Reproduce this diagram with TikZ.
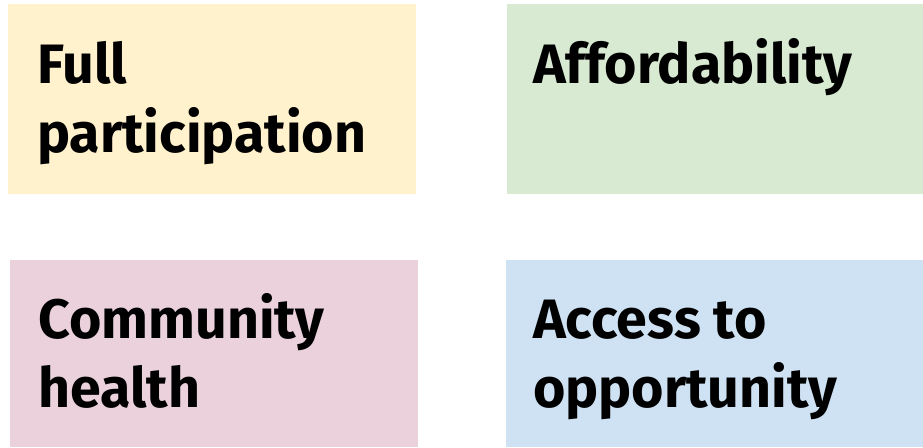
\documentclass[tikz,border=0pt]{standalone}
\usepackage{fontspec}
\setmainfont{Fira Sans}[BoldFont={Fira Sans Bold}]
\definecolor{cyel}{HTML}{FFF2CC}
\definecolor{cgrn}{HTML}{D9EAD3}
\definecolor{cpnk}{HTML}{EAD1DC}
\definecolor{cblu}{HTML}{CFE2F3}
\begin{document}
\begin{tikzpicture}[x=1pt,y=-1pt,
  card/.style={inner sep=0pt, anchor=base west, align=left, font=\bfseries\fontsize{55.5}{69}\selectfont}]
\useasboundingbox (0,0) rectangle (923,447);
\fill[cyel] (8,4) rectangle (416,194);
\fill[cgrn] (507,4) rectangle (923,194);
\fill[cpnk] (10,260) rectangle (418,447);
\fill[cblu] (506,260) rectangle (923,447);
\node[card] (t1) at (37,152) {Full\\participation};
\node[card] (t2) at (533,83) {Affordability};
\node[card] (t3) at (38,407) {Community\\health};
\node[card] (t4) at (533,407) {Access to\\opportunity};
\end{tikzpicture}
\end{document}
